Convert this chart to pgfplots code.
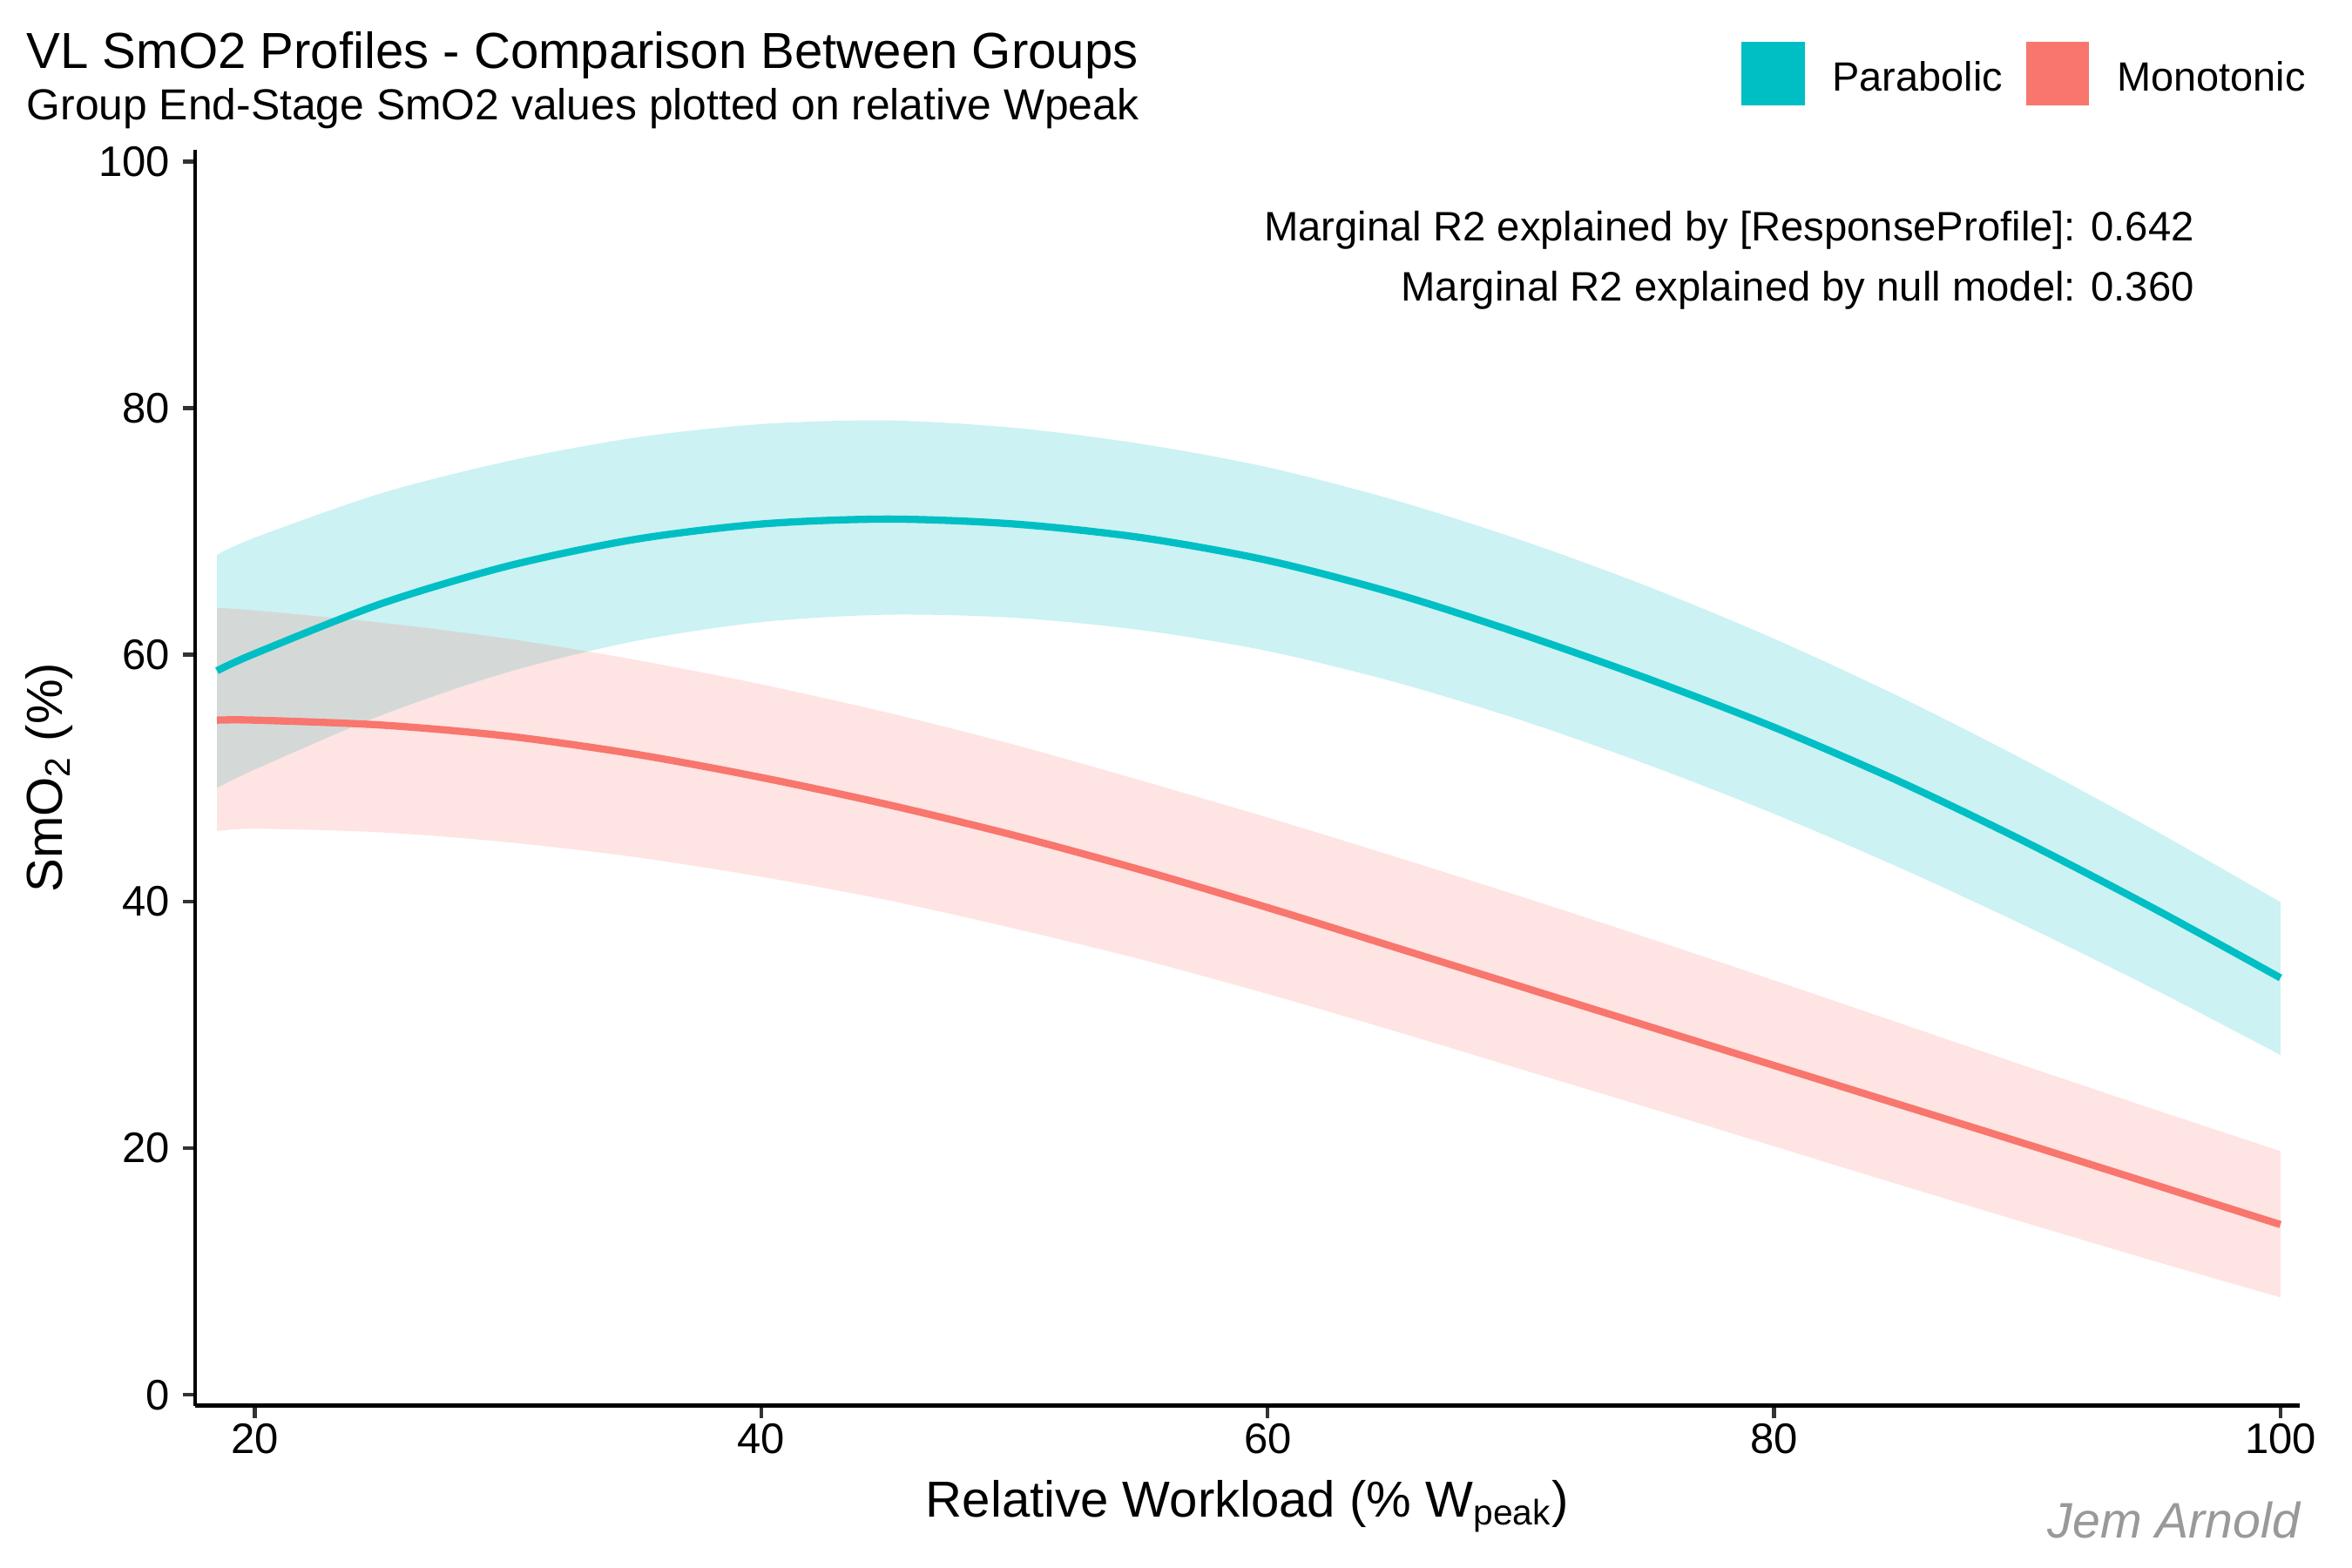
\documentclass[border=0pt]{standalone}
\usepackage{fontspec}
\setmainfont{Liberation Sans}
\usepackage{pgfplots}
\usepackage{pgfplotstable}
\pgfplotsset{compat=1.18}
\usepgfplotslibrary{fillbetween}

\definecolor{parab}{HTML}{00BFC4}
\definecolor{monot}{HTML}{F8766D}
\definecolor{captgray}{HTML}{999999}
\definecolor{tickgray}{HTML}{333333}

% predicted SmO2 with confidence band
\pgfplotstableread{
x     mean  lo    hi
18.5  58.7  49.2  68.1
20    60.1  50.7  69.5
25    64.15 55.1  73.1
30    67.2  58.6  75.7
35    69.35 61.1  77.6
40    70.6  62.65 78.7
45    71.0  63.25 79.0
50    70.6  63.0  78.4
55    69.5  62.0  77.1
60    67.65 60.3  75.2
65    64.98 57.8  72.55
70    61.69 54.7  69.3
75    58.07 51.1  65.55
80    54.12 47.1  61.3
85    49.68 42.7  56.55
90    44.75 37.95 51.35
95    39.43 32.9  45.8
100   33.8  27.55 39.95
}\parabolic

\pgfplotstableread{
x     mean  lo    hi
18.5  54.7  45.7  63.8
20    54.7  45.9  63.6
25    54.3  45.6  62.6
30    53.4  44.8  61.3
35    51.95 43.6  59.6
40    50.05 42.0  57.6
45    47.85 40.1  55.3
50    45.35 37.8  52.7
55    42.55 35.3  49.8
60    39.5  32.5  46.8
65    36.3  29.5  43.65
70    33.1  26.4  40.4
75    29.9  23.3  37.05
80    26.7  20.15 33.6
85    23.5  17.0  30.1
90    20.3  13.9  26.6
95    17.05 10.85 23.15
100   13.8  7.9   19.75
}\monotonic

\begin{document}
\begin{tikzpicture}
\begin{axis}[
    name=ax, at={(0,0)}, anchor=south west,
    width=582.1pt, height=347.3pt, scale only axis,
    xmin=17.63, xmax=100.77, ymin=-0.88, ymax=100.95,
    axis lines*=left,
    axis line style={black, line width=1.07pt},
    xtick={20,40,60,80,100}, ytick={0,20,40,60,80,100},
    tick align=outside, major tick length=3.4pt,
    tick style={tickgray, line width=1.07pt},
    /pgf/number format/assume math mode=true,
    ticklabel style={font=\fontsize{11.8}{13}\selectfont, black},
    xticklabel style={anchor=north, inner sep=0pt, yshift=-1.4pt},
    yticklabel style={anchor=east, inner sep=0pt, xshift=-3.3pt},
    xlabel={Relative Workload (\% W\textsubscript{peak})},
    ylabel={SmO\textsubscript{2} (\%)},
    label style={font=\fontsize{14}{16}\selectfont},
    xlabel style={at={(axis description cs:0.5,-0.0887)}, anchor=base},
    ylabel style={at={(axis description cs:-0.0629,0.5)}, anchor=base, rotate=0},
    legend image code/.code={\fill[#1] (0pt,-7.2pt) rectangle (17.5pt,10.3pt);},
    legend columns=2,
    legend style={at={(axis description cs:0.7346,1.0858)}, anchor=north west,
        draw=none, fill=none, inner sep=0pt, outer sep=0pt,
        font=\fontsize{11.3}{13}\selectfont,
        nodes={inner sep=0pt},
        /tikz/every odd column/.append style={column sep=7.7pt},
        /tikz/every even column/.append style={column sep=6.4pt}},
]
\addplot[name path=pu, draw=none, forget plot, smooth] table[x=x, y=hi] {\parabolic};
\addplot[name path=pl, draw=none, forget plot, smooth] table[x=x, y=lo] {\parabolic};
\addplot[fill=parab, fill opacity=0.2, draw=none, forget plot] fill between[of=pu and pl];

\addplot[name path=mu, draw=none, forget plot, smooth] table[x=x, y=hi] {\monotonic};
\addplot[name path=ml, draw=none, forget plot, smooth] table[x=x, y=lo] {\monotonic};
\addplot[fill=monot, fill opacity=0.2, draw=none, forget plot] fill between[of=mu and ml];

\addplot[parab, line width=2pt, smooth, forget plot] table[x=x, y=mean] {\parabolic};
\addplot[monot, line width=2pt, smooth, forget plot] table[x=x, y=mean] {\monotonic};

\addlegendimage{fill=parab, draw=none}
\addlegendentry{Parabolic}
\addlegendimage{fill=monot, draw=none}
\addlegendentry{Monotonic}
\end{axis}

\begin{scope}[every node/.style={inner sep=0pt, outer sep=0pt}]
\node[anchor=base west, font=\fontsize{14}{16}\selectfont] at (-46.5pt,369.7pt)
    {VL SmO2 Profiles - Comparison Between Groups};
\node[anchor=base west, font=\fontsize{12}{14}\selectfont] at (-46.5pt,355.5pt)
    {Group End-Stage SmO2 values plotted on relative Wpeak};
\node[anchor=base east, font=\fontsize{11.38}{13}\selectfont] at (552.9pt,322.2pt)
    {Marginal R2 explained by [ResponseProfile]: 0.642};
\node[anchor=base east, font=\fontsize{11.38}{13}\selectfont] at (552.9pt,305.4pt)
    {Marginal R2 explained by null model: 0.360};
\node[anchor=base east, font=\fontsize{13.8}{16}\selectfont\itshape, text=captgray]
    at (582.1pt,-36.6pt) {Jem Arnold};
\end{scope}

\pgfresetboundingbox
\path (-53.9pt,-44.9pt) rectangle (596.5pt,388.7pt);
\end{tikzpicture}
\end{document}
